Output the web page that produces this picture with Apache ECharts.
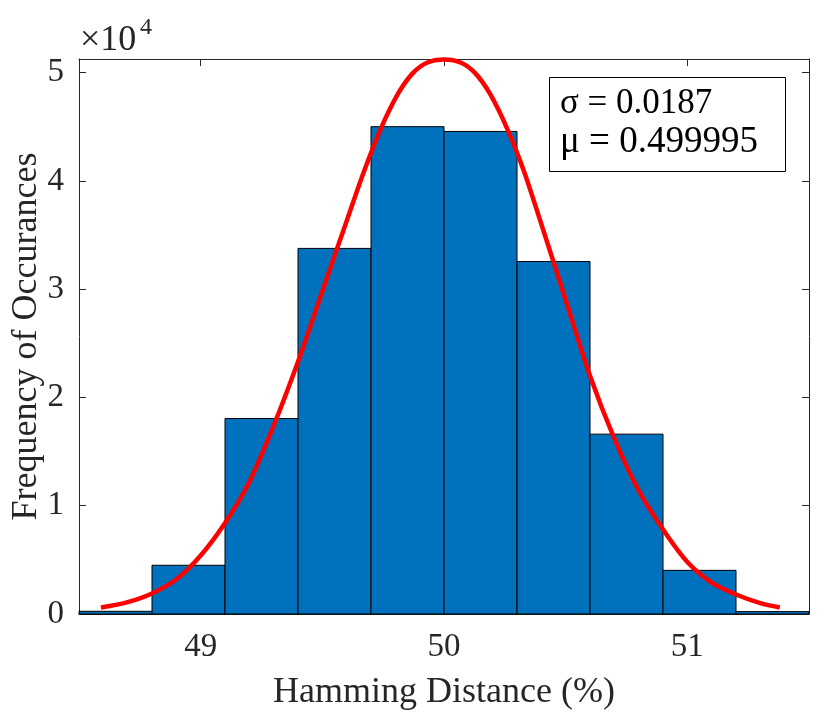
<!DOCTYPE html>
<html>
<head>
<meta charset="utf-8">
<script src="https://cdn.jsdelivr.net/npm/echarts@6/dist/echarts.min.js"></script>
<style>
  html, body { margin: 0; padding: 0; background: #fff; }
  #chart { width: 830px; height: 722px; }
</style>
</head>
<body>
<div id="chart"></div>
<script>
// histogram bins (Hamming distance, %) and counts
var binLo = [48.5, 48.8, 49.1, 49.4, 49.7, 50.0, 50.3, 50.6, 50.9, 51.2];
var binHi = [48.8, 49.1, 49.4, 49.7, 50.0, 50.3, 50.6, 50.9, 51.2, 51.5];
var counts = [250, 4500, 18050, 33760, 45000, 44560, 32550, 16610, 4030, 220];

// fitted normal curve
var fitX = [48.59, 48.70, 48.80, 48.90, 49.00, 49.10, 49.20, 49.30, 49.40, 49.50, 49.60, 49.67, 49.74, 49.81, 49.87, 49.93, 50.00,
            50.07, 50.13, 50.19, 50.26, 50.33, 50.40, 50.50, 50.60, 50.70, 50.80, 50.90, 51.00, 51.10, 51.20, 51.30, 51.38];
var fitY = [600, 1100, 1900, 3200, 5400, 8400, 12200, 17400, 23300, 29800, 36300, 40800, 44800, 48000, 49900, 50900, 51200,
            50900, 49900, 48000, 44800, 40800, 36000, 29000, 22000, 16200, 11400, 7800, 4800, 2900, 1800, 1000, 600];

var xTicks = [49, 50, 51];
var yTicks = [0, 10000, 20000, 30000, 40000, 50000];

var sigmaText = 'σ = 0.0187';
var muText = 'μ = 0.499995';

var font = '"Liberation Serif", "Times New Roman", serif';
var axisColor = '#262626';

var chart = echarts.init(document.getElementById('chart'));

var histData = binLo.map(function (lo, i) { return [lo, binHi[i], counts[i]]; });
var fitData = fitX.map(function (x, i) { return [x, fitY[i]]; });

function renderBin(params, api) {
    var p0 = api.coord([api.value(0), 0]);
    var p1 = api.coord([api.value(1), api.value(2)]);
    return {
        type: 'rect',
        shape: { x: p0[0], y: p1[1], width: p1[0] - p0[0], height: p0[1] - p1[1] },
        style: { fill: '#0072BD', stroke: '#000', lineWidth: 1 }
    };
}

var tickStyle = { show: true, inside: true, length: 7, lineStyle: { color: axisColor, width: 1 } };

var option = {
    backgroundColor: '#fff',
    animation: false,
    grid: { left: 79, right: 21, top: 59, bottom: 108, containLabel: false, outerBoundsMode: 'none' },
    xAxis: [
        {
            type: 'value', min: 48.5, max: 51.5,
            axisLine: { show: true, onZero: false, lineStyle: { color: axisColor, width: 1 } },
            axisTick: Object.assign({ customValues: xTicks }, tickStyle),
            axisLabel: { customValues: xTicks, fontFamily: font, fontSize: 33, color: axisColor, margin: 17 },
            splitLine: { show: false },
            name: 'Hamming Distance (%)', nameLocation: 'middle', nameGap: 61, nameMoveOverlap: false,
            nameTextStyle: { fontFamily: font, fontSize: 36, color: axisColor }
        },
        {
            type: 'value', min: 48.5, max: 51.5, position: 'top',
            axisLine: { show: true, onZero: false, lineStyle: { color: axisColor, width: 1 } },
            axisTick: Object.assign({ customValues: xTicks }, tickStyle),
            axisLabel: { show: false },
            splitLine: { show: false }
        }
    ],
    yAxis: [
        {
            type: 'value', min: 0, max: 51250,
            axisLine: { show: true, onZero: false, lineStyle: { color: axisColor, width: 1 } },
            axisTick: Object.assign({ customValues: yTicks }, tickStyle),
            axisLabel: {
                customValues: yTicks, fontFamily: font, fontSize: 33, color: axisColor, margin: 15,
                formatter: function (v) { return String(v / 10000); }
            },
            splitLine: { show: false },
            name: 'Frequency of Occurances', nameLocation: 'middle', nameGap: 34, nameMoveOverlap: false,
            nameTextStyle: { fontFamily: font, fontSize: 36, color: axisColor }
        },
        {
            type: 'value', min: 0, max: 51250, position: 'right',
            axisLine: { show: true, onZero: false, lineStyle: { color: axisColor, width: 1 } },
            axisTick: Object.assign({ customValues: yTicks }, tickStyle),
            axisLabel: { show: false },
            splitLine: { show: false }
        }
    ],
    series: [
        {
            type: 'custom',
            renderItem: renderBin,
            encode: { x: [0, 1], y: 2 },
            data: histData,
            z: 2
        },
        {
            type: 'line',
            data: fitData,
            smooth: 0.3,
            showSymbol: false,
            lineStyle: { color: '#ff0000', width: 4.5 },
            z: 3
        }
    ],
    graphic: [
        { type: 'text', left: 80, top: 23, style: { text: '×10', font: '36px ' + font, fill: axisColor } },
        { type: 'text', left: 140, top: 16, style: { text: '4', font: '24px ' + font, fill: axisColor } },
        {
            type: 'rect', left: 549, top: 77, z: 10,
            shape: { width: 236, height: 94 },
            style: { fill: '#fff', stroke: '#000', lineWidth: 1 }
        },
        { type: 'text', left: 560, top: 86, z: 11, style: { text: sigmaText, font: '35px ' + font, fill: '#000' } },
        { type: 'text', left: 560, top: 124, z: 11, style: { text: muText, font: '37px ' + font, fill: '#000' } }
    ]
};

chart.setOption(option);
</script>
</body>
</html>
